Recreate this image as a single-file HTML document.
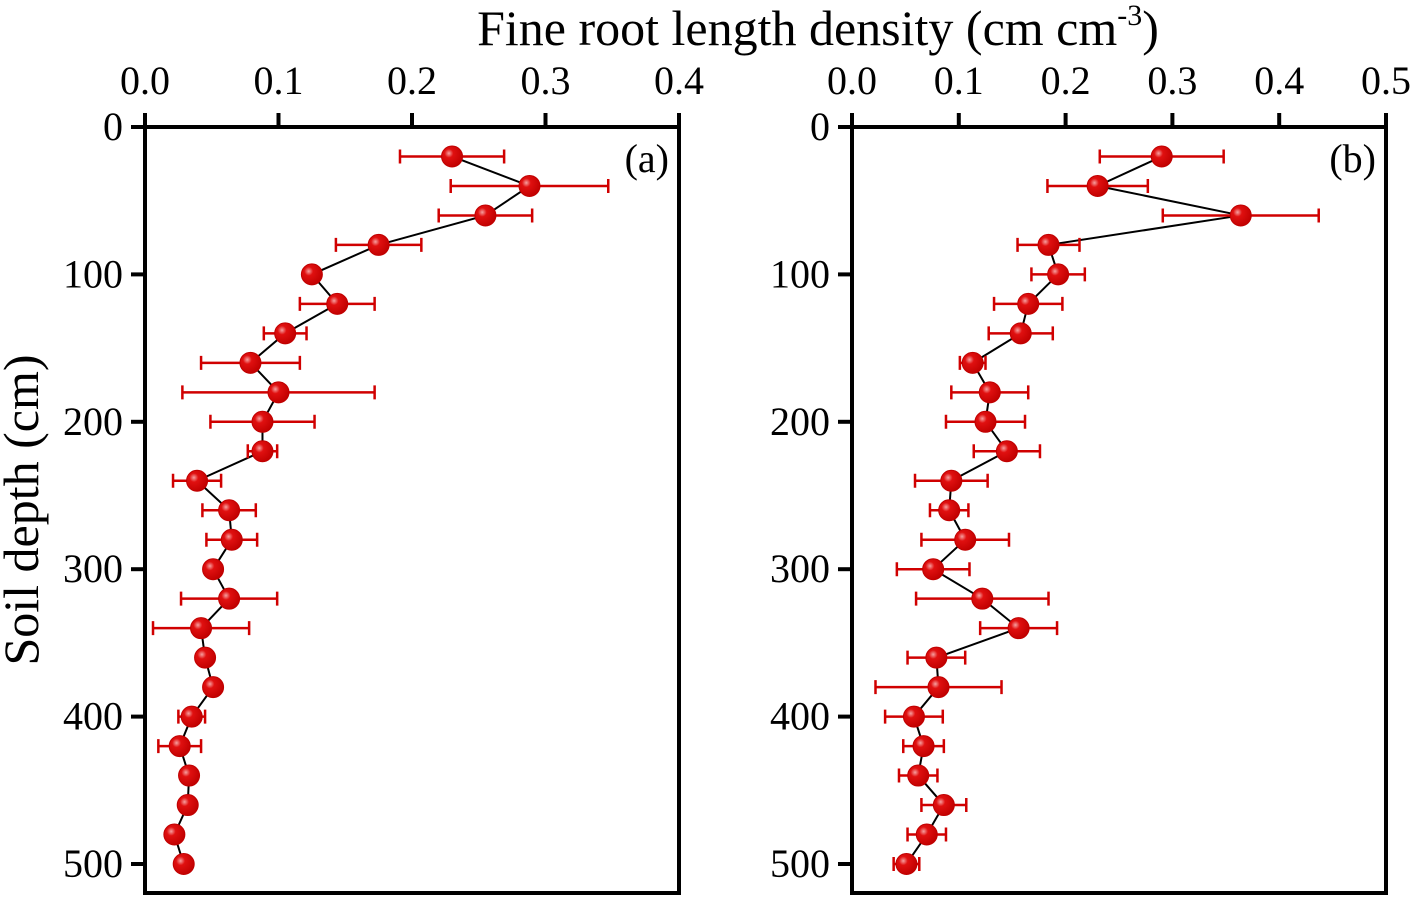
<!DOCTYPE html>
<html><head><meta charset="utf-8"><style>
body{margin:0;background:#fff}
svg{display:block}
text{font-family:"Liberation Serif",serif;fill:#000}
</style></head><body>
<svg id="c" width="1410" height="898" viewBox="0 0 1410 898">
<defs><radialGradient id="g" cx="0.35" cy="0.35" r="0.7"><stop offset="0" stop-color="#f6a0a0"/><stop offset="0.3" stop-color="#e01010"/><stop offset="1" stop-color="#c00000"/></radialGradient></defs>
<text x="818" y="45" text-anchor="middle" font-size="50">Fine root length density (cm cm<tspan dy="-20" font-size="30">-3</tspan><tspan dy="20">)</tspan></text>
<text transform="translate(38,510) rotate(-90)" text-anchor="middle" font-size="50">Soil depth (cm)</text>
</svg>
<script>
const depths=[20,40,60,80,100,120,140,160,180,200,220,240,260,280,300,320,340,360,380,400,420,440,460,480,500];
const valsA=[0.230,0.288,0.255,0.175,0.125,0.144,0.105,0.079,0.100,0.088,0.088,0.039,0.063,0.065,0.051,0.063,0.042,0.045,0.051,0.035,0.026,0.033,0.032,0.022,0.029];
const errA=[0.039,0.059,0.035,0.032,0.005,0.028,0.016,0.037,0.072,0.039,0.011,0.018,0.020,0.019,0.004,0.036,0.036,0.005,0.004,0.010,0.016,0.003,0.002,0.002,0.003];
const valsB=[0.290,0.230,0.364,0.184,0.193,0.165,0.158,0.113,0.129,0.125,0.145,0.093,0.091,0.106,0.076,0.122,0.156,0.079,0.081,0.058,0.067,0.062,0.086,0.070,0.051];
const errB=[0.058,0.047,0.073,0.029,0.025,0.032,0.030,0.012,0.036,0.037,0.031,0.034,0.018,0.041,0.034,0.062,0.036,0.027,0.059,0.027,0.019,0.018,0.021,0.018,0.012];
const ticksA=["0.0","0.1","0.2","0.3","0.4"];
const ticksB=["0.0","0.1","0.2","0.3","0.4","0.5"];
const yTicks=[0,100,200,300,400,500];
const svg=document.getElementById('c');
const NS='http://www.w3.org/2000/svg';
function mk(t,a,p){const e=document.createElementNS(NS,t);for(const k in a)e.setAttribute(k,a[k]);(p||svg).appendChild(e);return e;}
function panel(id,x0,x1,xmax,ticks,vals,errs,lbl){
  const top=127,bot=893,y0=127,y500=864;
  const sx=v=>x0+(x1-x0)*v/xmax, sy=d=>y0+(y500-y0)*d/500;
  const g=mk('g',{});
  
  
  const fr=mk('rect',{x:x0,y:top,width:x1-x0,height:bot-top,fill:'none',stroke:'#000','stroke-width':4},g);
  
  
  ticks.forEach((t,i)=>{const v=i*0.1,x=sx(v);
    const l=mk('line',{x1:x,x2:x,y1:top,y2:top-14,stroke:'#000','stroke-width':4},g);
    
    
    const tx=mk('text',{x:x,y:94,'text-anchor':'middle','font-size':40},g);tx.textContent=t;
    
    });
  yTicks.forEach(d=>{const y=sy(d);
    const l=mk('line',{x1:x0,x2:x0-14,y1:y,y2:y,stroke:'#000','stroke-width':4},g);
    
    
    const tx=mk('text',{x:x0-22,y:y+13,'text-anchor':'end','font-size':40},g);tx.textContent=d;
    
    });
  const pts=vals.map((v,i)=>sx(v)+','+sy(depths[i])).join(' ');
  const pl=mk('polyline',{points:pts,fill:'none',stroke:'#000','stroke-width':2},g);
  
  
  vals.forEach((v,i)=>{const y=sy(depths[i]),a=sx(v-errs[i]),b=sx(v+errs[i]);
    const e=mk('path',{d:`M${a},${y}H${b}M${a},${y-7}V${y+7}M${b},${y-7}V${y+7}`,stroke:'#d00000','stroke-width':2.5,fill:'none'},g);
    
    
    const c=mk('circle',{cx:sx(v),cy:y,r:10.5,fill:'url(#g)',stroke:'#c00000','stroke-width':1},g);
    
    });
  const t=mk('text',{x:x1-10,y:172,'text-anchor':'end','font-size':40},g);t.textContent=lbl;
  
  
}
panel('a',145,679,0.4,ticksA,valsA,errA,'(a)');
panel('b',852,1386,0.5,ticksB,valsB,errB,'(b)');
</script>
</body></html>
